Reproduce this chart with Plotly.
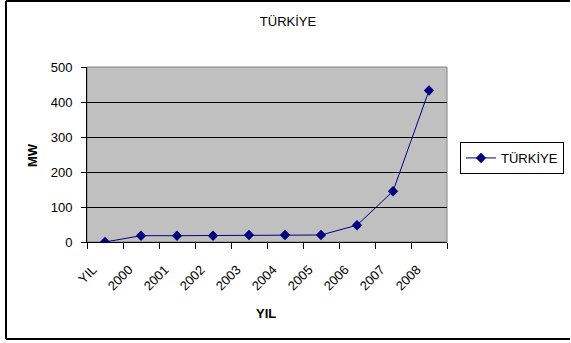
import plotly.graph_objects as go

categories = ["YIL", "2000", "2001", "2002", "2003", "2004", "2005", "2006", "2007", "2008"]
values = [0, 18, 18, 18, 20, 20, 20, 48, 145, 433]
series_name = "TÜRKİYE"
y_ticks = [0, 100, 200, 300, 400, 500]

W, H = 571, 343
L, R, T, B = 87, 447, 67, 242
pw, ph = R - L, B - T

def px_x(p):
    return (p - L) / pw

def px_y(p):
    return (B - p) / ph

font = "Liberation Sans, Arial, sans-serif"
FS = 13

fig = go.Figure()
fig.add_trace(go.Scatter(
    x=categories, y=values, name=series_name, mode="lines+markers",
    line=dict(color="#000080", width=1),
    marker=dict(symbol="diamond", size=8, color="#000080"),
))

fig.update_layout(
    width=W, height=H,
    margin=dict(l=L, r=W - R, t=T, b=H - B, autoexpand=False),
    paper_bgcolor="white", plot_bgcolor="#C0C0C0",
    font=dict(family=font, size=FS, color="black"),
    title=dict(text="TÜRKİYE", xref="container", yref="container",
               x=288 / W, y=1 - 21 / H, xanchor="center", yanchor="middle",
               font=dict(size=FS, family=font, color="black")),
    showlegend=True,
    legend=dict(x=px_x(460), y=px_y(142), xanchor="left", yanchor="top",
                bordercolor="black", borderwidth=1, bgcolor="white",
                font=dict(size=FS, family=font), itemwidth=30,
                tracegroupgap=0),
)

fig.update_xaxes(
    type="category", tickson="boundaries", ticks="outside", ticklen=6,
    tickcolor="black", showline=True, linecolor="black", linewidth=1,
    showgrid=False, tickangle=-45, tickfont=dict(size=FS, family=font),
    ticklabelstandoff=14, ticklabelshift=-12,
    range=[-0.5, len(categories) - 0.5], automargin=False,
)
fig.update_yaxes(
    range=[0, 500], tickvals=y_ticks, ticks="outside", ticklen=5,
    tickcolor="black", showline=True, linecolor="black", linewidth=1,
    showgrid=True, gridcolor="black", gridwidth=1, zeroline=False,
    tickfont=dict(size=FS, family=font), ticklabelstandoff=6, automargin=False,
)

# axis titles
fig.add_annotation(text="<b>MW</b>", xref="paper", yref="paper",
                   x=px_x(32), y=px_y(155), showarrow=False, textangle=-90,
                   font=dict(size=FS, family=font), xanchor="center", yanchor="middle")
fig.add_annotation(text="<b>YIL</b>", xref="paper", yref="paper",
                   x=px_x(266), y=px_y(313), showarrow=False,
                   font=dict(size=FS, family=font), xanchor="center", yanchor="middle")

# plot area border (gray)
fig.add_shape(type="rect", xref="paper", yref="paper", x0=0, y0=0, x1=1, y1=1,
              line=dict(color="#808080", width=1), layer="below")
# chart frame (black): left, top, bottom edges (right edge is off-canvas)
frame = dict(color="black", width=2)
fig.add_shape(type="line", xref="paper", yref="paper",
              x0=px_x(6), y0=px_y(339), x1=px_x(6), y1=px_y(1), line=frame)
fig.add_shape(type="line", xref="paper", yref="paper",
              x0=px_x(6), y0=px_y(1), x1=px_x(W - 1), y1=px_y(1), line=frame)
fig.add_shape(type="line", xref="paper", yref="paper",
              x0=px_x(6), y0=px_y(339), x1=px_x(W - 1), y1=px_y(339), line=frame)

fig.write_html("out.html")
